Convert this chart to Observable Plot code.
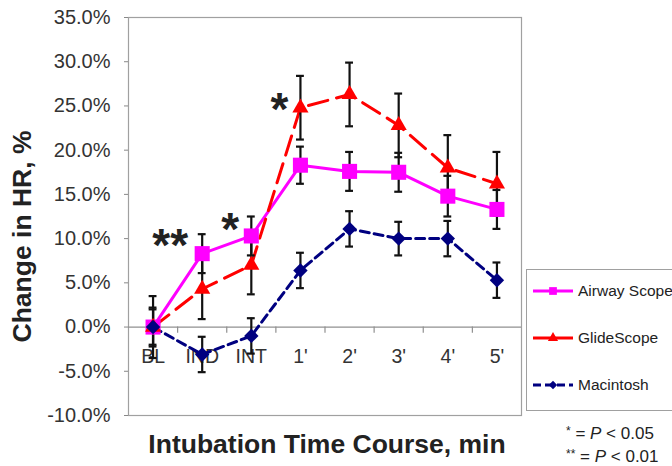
<!DOCTYPE html>
<html>
<head>
<meta charset="utf-8">
<script src="https://cdn.jsdelivr.net/npm/d3@7"></script>
<script src="https://cdn.jsdelivr.net/npm/@observablehq/plot@0.6"></script>
<style>
  html, body { margin: 0; padding: 0; background: #fff; overflow: hidden; }
  #wrap { position: relative; width: 672px; height: 466px; font-family: "Liberation Sans", Arial, sans-serif; }
  #legend { position: absolute; left: 526px; top: 269px; width: 160px; height: 140px; border: 1px solid #a0a0a0; background: #fff; }
  .entry { position: absolute; left: 6px; display: flex; align-items: center; font-size: 15.5px; color: #222; }
  .entry svg { display: block; margin-right: 3px; }
  #note { position: absolute; left: 566px; top: 421px; font-size: 17px; color: #222; line-height: 21px; }
  #note sup { font-size: 12px; vertical-align: 4px; }
</style>
</head>
<body>
<div id="wrap"></div>
<script>
const categories = ["BL", "IND", "INT", "1'", "2'", "3'", "4'", "5'"];
const seriesNames = ["Airway Scope", "GlideScope", "Macintosh"];
const airway = [0, 8.3, 10.3, 18.3, 17.6, 17.5, 14.8, 13.3];
const airwayErr = [2.2, 2.2, 2.2, 2.1, 2.2, 2.2, 2.3, 2.2];
const glide = [0, 4.3, 7.0, 24.8, 26.3, 22.8, 18.0, 16.2];
const glideErr = [3.5, 3.4, 3.3, 3.6, 3.6, 3.6, 3.7, 3.6];
const mac = [0, -3.1, -1.0, 6.4, 11.1, 10.0, 10.0, 5.3];
const macErr = [2.0, 2.0, 2.0, 2.0, 2.0, 1.9, 2.0, 2.0];
const yTicks = [-10, -5, 0, 5, 10, 15, 20, 25, 30, 35];
const doubleStars = [{t: "IND", v: 10.0, label: "**"}];
const singleStars = [
  {t: "INT", v: 11.8, label: "*"},
  {t: "1'", v: 25.4, label: "*"}
];

const values = [airway, glide, mac];
const errs = [airwayErr, glideErr, macErr];
const rows = seriesNames.flatMap((s, k) => categories.map((c, i) => ({
  series: s, t: c, pos: i + 0.5, v: values[k][i], e: errs[k][i]
})));
const bySeries = s => rows.filter(r => r.series === s);
const posOf = t => categories.indexOf(t) + 0.5;

const colors = {"Airway Scope": "#ff00ff", "GlideScope": "#ff0000", "Macintosh": "#000080"};
const font = '"Liberation Sans", Arial, sans-serif';

const chart = Plot.plot({
  width: 672,
  height: 466,
  marginLeft: 128,
  marginRight: 151,
  marginTop: 17,
  marginBottom: 51,
  style: {fontFamily: font, background: "transparent"},
  x: {type: "linear", domain: [0, categories.length], axis: null},
  y: {domain: [-10, 35], axis: null},
  marks: [
    Plot.frame({stroke: "#a0a0a0", strokeWidth: 1.2}),
    Plot.axisY({ticks: yTicks, tickSize: 4, tickPadding: 14, fontSize: 20, tickFormat: d => d.toFixed(1) + "%", label: null, stroke: "#888", color: "#333"}),
    Plot.ruleY([0], {stroke: "#909090", strokeWidth: 1.2}),
    Plot.ruleX(d3.range(1, categories.length), {x: d => d, y1: 0, y2: -0.7, stroke: "#909090", strokeWidth: 1.2}),
    Plot.text(categories, {x: (d, i) => i + 0.5, y: 0, text: d => d, dy: 30, fontSize: 19.5, fill: "#333"}),
    Plot.text(["Change in HR, %"], {frameAnchor: "left", textAnchor: "middle", dx: -106, dy: 20, rotate: -90, fontSize: 26.5, fontWeight: "bold", fill: "#222"}),
    Plot.text(["Intubation Time Course, min"], {frameAnchor: "bottom", dy: 37, dx: 2, fontSize: 26.5, fontWeight: "bold", fill: "#222"}),
    Plot.line(bySeries("Airway Scope"), {x: "pos", y: "v", stroke: colors["Airway Scope"], strokeWidth: 3}),
    Plot.line(bySeries("GlideScope"), {x: "pos", y: "v", stroke: colors["GlideScope"], strokeWidth: 3, strokeDasharray: "20,9"}),
    Plot.line(bySeries("Macintosh"), {x: "pos", y: "v", stroke: colors["Macintosh"], strokeWidth: 3, strokeDasharray: "9,5"}),
    Plot.ruleX(rows, {x: "pos", y1: d => d.v - d.e, y2: d => d.v + d.e, stroke: "#111", strokeWidth: 2.2}),
    Plot.ruleY(rows, {y: d => d.v + d.e, x1: d => d.pos - 0.08, x2: d => d.pos + 0.08, stroke: "#111", strokeWidth: 2.2}),
    Plot.ruleY(rows, {y: d => d.v - d.e, x1: d => d.pos - 0.08, x2: d => d.pos + 0.08, stroke: "#111", strokeWidth: 2.2}),
    Plot.dot(bySeries("Airway Scope"), {x: "pos", y: "v", symbol: "square", r: 8.5, fill: colors["Airway Scope"], stroke: "none"}),
    Plot.dot(bySeries("GlideScope"), {x: "pos", y: "v", symbol: "triangle", r: 6, fill: colors["GlideScope"], stroke: "none"}),
    Plot.dot(bySeries("Macintosh"), {x: "pos", y: "v", symbol: "diamond2", r: 6.5, fill: colors["Macintosh"], stroke: "none"}),
    Plot.text(doubleStars, {x: d => posOf(d.t), y: "v", text: "label", dx: -32, dy: 8, fontSize: 46, fontWeight: "bold", fill: "#222"}),
    Plot.text(singleStars, {x: d => posOf(d.t), y: "v", text: "label", dx: -21, dy: 8, fontSize: 46, fontWeight: "bold", fill: "#222"})
  ]
});

const wrap = document.getElementById("wrap");
wrap.appendChild(chart);

// Legend
const legend = document.createElement("div");
legend.id = "legend";
const symbols = {"Airway Scope": "square", "GlideScope": "triangle", "Macintosh": "diamond2"};
const dashes = {"Airway Scope": null, "GlideScope": null, "Macintosh": "8,4"};
const symMap = {square: d3.symbolSquare, triangle: d3.symbolTriangle, diamond2: d3.symbolDiamond2};
const sizes = {square: 60, triangle: 45, diamond2: 45};
seriesNames.forEach((s, k) => {
  const e = document.createElement("div");
  e.className = "entry";
  e.style.top = (12 + k * 47) + "px";
  const svg = d3.create("svg").attr("width", 42).attr("height", 16);
  svg.append("line").attr("x1", 0).attr("x2", 40).attr("y1", 8).attr("y2", 8)
    .attr("stroke", colors[s]).attr("stroke-width", 3).attr("stroke-dasharray", dashes[s]);
  svg.append("path").attr("transform", "translate(20,8)")
    .attr("d", d3.symbol(symMap[symbols[s]], sizes[symbols[s]])()).attr("fill", colors[s]);
  e.appendChild(svg.node());
  const span = document.createElement("span");
  span.textContent = s;
  e.appendChild(span);
  legend.appendChild(e);
});
wrap.appendChild(legend);

// Footnote
const note = document.createElement("div");
note.id = "note";
note.innerHTML = '<div><sup>*</sup> = <i>P</i> &lt; 0.05</div><div><sup>**</sup> = <i>P</i> &lt; 0.01</div>';
wrap.appendChild(note);
</script>
</body>
</html>
